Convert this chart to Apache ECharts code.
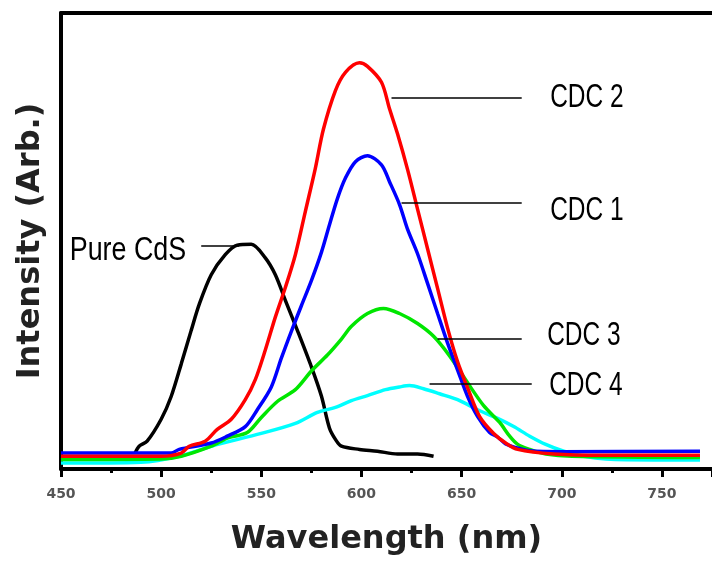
<!DOCTYPE html>
<html>
<head>
<meta charset="utf-8">
<script src="https://cdn.jsdelivr.net/npm/echarts@6/dist/echarts.min.js"></script>
<style>
  html, body { margin: 0; padding: 0; background: #fff; }
  #chart { width: 712px; height: 561px; }
</style>
</head>
<body>
<div id="chart"></div>
<script>
// wavelength (nm) / intensity (arb.)
var cdsX = [487, 489, 493, 500, 505, 510, 515, 519, 525, 532, 538, 545, 552, 557, 562, 568, 575, 580, 584, 587, 590, 599, 608, 618, 628, 636];
var cdsY = [3.5, 5.0, 6.1, 10.9, 15.9, 23.0, 30.4, 36.1, 42.6, 47.0, 49.1, 49.3, 46.3, 42.6, 37.0, 30.4, 22.4, 16.0, 9.0, 6.5, 5.0, 4.3, 3.9, 3.3, 3.3, 2.8];

var cdc2X = [450, 500, 510, 514, 522, 528, 535, 542, 547, 552, 557, 562, 567, 572, 577, 581, 587, 592, 599, 603, 610, 614, 618, 623, 628, 633, 638, 643, 648, 653, 659, 666, 672, 678, 696, 720, 769];
var cdc2Y = [2.8, 2.8, 3.5, 5.0, 6.1, 8.7, 10.9, 15.2, 19.6, 26.1, 33.3, 39.8, 47.0, 56.5, 66.0, 74.5, 83.0, 87.0, 89.1, 88.3, 84.8, 79.0, 73.5, 65.7, 57.0, 48.3, 39.6, 30.9, 23.5, 17.8, 11.5, 7.8, 5.7, 4.3, 3.3, 3.0, 3.0];

var cdc1X = [450, 505, 509, 525, 533, 542, 548, 555, 560, 565, 570, 575, 580, 584, 588, 592, 597, 603, 610, 614, 619, 623, 628, 633, 638, 643, 648, 653, 658, 664, 668, 672, 678, 684, 700, 769];
var cdc1Y = [3.5, 3.5, 4.3, 5.7, 7.2, 9.3, 13.0, 18.0, 24.3, 30.2, 35.8, 41.3, 47.5, 53.5, 59.3, 63.8, 67.4, 68.7, 66.7, 63.0, 58.0, 52.6, 47.2, 40.7, 34.1, 27.6, 21.7, 15.9, 11.5, 8.0, 7.0, 5.5, 4.6, 4.0, 3.8, 3.9];

var cdc3X = [450, 500, 510, 525, 533, 543, 550, 558, 567, 575, 583, 590, 595, 603, 611, 619, 628, 636, 644, 653, 661, 669, 674, 678, 684, 692, 705, 769];
var cdc3Y = [2.1, 2.2, 2.8, 5.0, 6.8, 8.0, 11.3, 14.8, 17.4, 21.5, 25.0, 28.5, 31.3, 34.1, 35.2, 34.1, 31.9, 29.1, 24.8, 18.9, 13.9, 10.2, 7.2, 5.4, 4.3, 3.3, 2.8, 2.5];

var cdc4X = [450, 490, 509, 525, 550, 567, 578, 587, 595, 603, 612, 619, 624, 631, 639, 648, 658, 668, 676, 684, 692, 701, 711, 722, 746, 769];
var cdc4Y = [1.3, 1.5, 2.8, 5.0, 7.8, 10.0, 12.4, 13.5, 15.0, 16.1, 17.4, 18.0, 18.3, 17.6, 16.5, 15.2, 13.0, 11.1, 9.3, 7.2, 5.4, 3.9, 2.8, 2.2, 2.0, 2.0];

// annotations in data units: leader line [x0, x1, y], label anchor [x, y]
var leaderLines = {
  'Pure CdS': [539, 520, 48.9],
  'CDC 2': [615, 680, 81.5],
  'CDC 1': [620, 680, 58.3],
  'CDC 3': [638, 680, 28.5],
  'CDC 4': [634, 685, 18.7]
};
var labelAnchors = {
  'Pure CdS': [512.5, 47.8],
  'CDC 2': [694.2, 81.5],
  'CDC 1': [694.2, 56.6],
  'CDC 3': [692.7, 29.2],
  'CDC 4': [693.7, 18.3]
};

function pairs(xs, ys) {
  return xs.map(function (x, i) { return [x, ys[i]]; });
}

function leader(name) {
  var l = leaderLines[name];
  return {
    silent: true,
    symbol: ['none', 'none'],
    animation: false,
    label: { show: false },
    lineStyle: { color: '#000', width: 1.5, type: 'solid' },
    data: [[{ coord: [l[0], l[2]] }, { coord: [l[1], l[2]] }]]
  };
}

function line(name, xs, ys, color) {
  return {
    name: name,
    type: 'line',
    data: pairs(xs, ys),
    showSymbol: false,
    smooth: 0.3,
    lineStyle: { color: color, width: 3.5 },
    itemStyle: { color: color },
    markLine: leader(name)
  };
}

var chart = echarts.init(document.getElementById('chart'));

var option = {
  animation: false,
  grid: { left: 61, right: -4, top: 13, bottom: 88 },
  xAxis: [
    {
      type: 'value',
      min: 450,
      max: 775,
      interval: 50,
      name: 'Wavelength (nm)',
      nameLocation: 'middle',
      nameGap: 55,
      nameTextStyle: { fontSize: 32, fontWeight: 'bold', color: '#222', fontFamily: 'DejaVu Sans' },
      axisLine: { onZero: false, lineStyle: { color: '#000', width: 4 } },
      axisTick: { show: true, inside: false, length: 8, lineStyle: { color: '#000', width: 3 } },
      minorTick: { show: true, splitNumber: 2, length: 4, lineStyle: { color: '#000', width: 3 } },
      axisLabel: {
        margin: 18,
        fontSize: 14,
        fontWeight: 'bold',
        color: '#555',
        fontFamily: 'DejaVu Sans',
        showMaxLabel: false
      },
      splitLine: { show: false }
    },
    {
      type: 'value',
      position: 'top',
      min: 450,
      max: 775,
      axisLine: { onZero: false, lineStyle: { color: '#000', width: 4 } },
      axisTick: { show: false },
      axisLabel: { show: false },
      splitLine: { show: false }
    }
  ],
  yAxis: {
    type: 'value',
    min: 0,
    max: 100,
    name: 'Intensity (Arb.)',
    nameLocation: 'middle',
    nameGap: 14,
    nameTextStyle: { fontSize: 32, fontWeight: 'bold', color: '#222', fontFamily: 'DejaVu Sans' },
    axisLine: { show: true, lineStyle: { color: '#000', width: 4 } },
    axisTick: { show: false },
    axisLabel: { show: false },
    splitLine: { show: false }
  },
  series: [
    line('Pure CdS', cdsX, cdsY, '#000000'),
    line('CDC 4', cdc4X, cdc4Y, '#00ffff'),
    line('CDC 3', cdc3X, cdc3Y, '#00e600'),
    line('CDC 1', cdc1X, cdc1Y, '#0000ff'),
    line('CDC 2', cdc2X, cdc2Y, '#ff0000')
  ]
};

chart.setOption(option);

// the labels use a narrow face, so squeeze normal text and anchor it via the axes
var texts = Object.keys(labelAnchors).map(function (name) {
  var p = chart.convertToPixel({ xAxisIndex: 0, yAxisIndex: 0 }, labelAnchors[name]);
  var left = name === 'Pure CdS';
  return {
    type: 'text',
    x: p[0],
    y: p[1],
    scaleX: left ? 0.79 : 0.72,
    silent: true,
    style: {
      text: name,
      fill: '#000',
      fontSize: 34,
      fontFamily: 'Liberation Sans, Arial, sans-serif',
      align: left ? 'right' : 'left',
      verticalAlign: 'middle'
    }
  };
});
chart.setOption({ graphic: texts });
</script>
</body>
</html>
